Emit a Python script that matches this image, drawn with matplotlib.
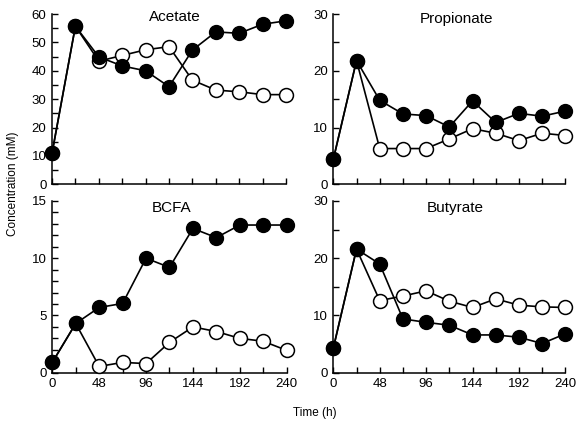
import matplotlib
matplotlib.use('Agg')
import matplotlib.pyplot as plt
from matplotlib.ticker import MultipleLocator

plt.rcParams['font.family'] = ['Liberation Sans', 'DejaVu Sans']

hours = [0, 24, 48, 72, 96, 120, 144, 168, 192, 216, 240]

acetate_filled = [10.9, 55.7, 44.9, 41.7, 40.0, 34.4, 47.3, 53.7, 53.2, 56.4, 57.6]
acetate_open = [10.9, 55.7, 43.4, 45.4, 47.4, 48.5, 36.7, 33.2, 32.6, 31.6, 31.6]

propionate_filled = [4.4, 21.8, 14.8, 12.4, 12.1, 10.1, 14.7, 10.9, 12.5, 12.0, 12.9]
propionate_open = [4.4, 21.8, 6.3, 6.3, 6.3, 8.0, 9.8, 9.0, 7.7, 9.0, 8.6]

bcfa_filled = [0.9, 4.3, 5.7, 6.05, 10.0, 9.2, 12.6, 11.8, 12.9, 12.9, 12.9]
bcfa_open = [0.9, 4.3, 0.55, 0.9, 0.8, 2.65, 4.0, 3.6, 3.0, 2.75, 1.95]

butyrate_filled = [4.3, 21.6, 19.0, 9.4, 8.8, 8.3, 6.6, 6.6, 6.2, 5.1, 6.8]
butyrate_open = [4.3, 21.6, 12.6, 13.4, 14.3, 12.5, 11.4, 12.9, 11.8, 11.5, 11.4]

panels = [
    ('Acetate', acetate_filled, acetate_open, 60, 10, 5, [0.0895, 0.5753, 0.4028, 0.3924], (0.526, 0.982)),
    ('Propionate', propionate_filled, propionate_open, 30, 10, 5, [0.5737, 0.5753, 0.3993, 0.3924], (0.532, 0.97)),
    ('BCFA', bcfa_filled, bcfa_open, 15, 5, 1, [0.0900, 0.1412, 0.4034, 0.3957], (0.51, 0.957)),
    ('Butyrate', butyrate_filled, butyrate_open, 30, 10, 5, [0.5737, 0.1412, 0.3993, 0.3957], (0.527, 0.957)),
]

fig = plt.figure(figsize=(5.81, 4.34), dpi=100)

for i, (name, filled, opened, ymax, ymaj, ymin, rect, tpos) in enumerate(panels):
    ax = fig.add_axes(rect)
    ax.plot(hours, opened, color='black', lw=1.2, marker='o', ms=10,
            mfc='white', mec='black', mew=1.1, clip_on=False, zorder=3)
    ax.plot(hours, filled, color='black', lw=1.2, marker='o', ms=10,
            mfc='black', mec='black', clip_on=False, zorder=4)
    ax.set_xlim(0, 240)
    ax.set_ylim(0, ymax)
    ax.spines['top'].set_visible(False)
    ax.spines['right'].set_visible(False)
    ax.spines['left'].set_linewidth(1.1)
    ax.spines['bottom'].set_linewidth(1.1)
    ax.xaxis.set_major_locator(MultipleLocator(48))
    ax.xaxis.set_minor_locator(MultipleLocator(24))
    ax.yaxis.set_major_locator(MultipleLocator(ymaj))
    ax.yaxis.set_minor_locator(MultipleLocator(ymin))
    ax.tick_params(which='both', direction='in', width=1.0, labelsize=9.5, pad=4)
    ax.tick_params(which='major', length=4)
    ax.tick_params(which='minor', length=4)
    if i < 2:
        ax.tick_params(axis='x', labelbottom=False)
    ax.text(tpos[0], tpos[1], name, transform=ax.transAxes, ha='center', va='center', fontsize=11)

fig.text(0.022, 0.576, 'Concentration (mM)', rotation=90, ha='center', va='center', fontsize=8.5)
fig.text(0.542, 0.048, 'Time (h)', ha='center', va='center', fontsize=8.5)

fig.savefig('out.png', dpi=100)
